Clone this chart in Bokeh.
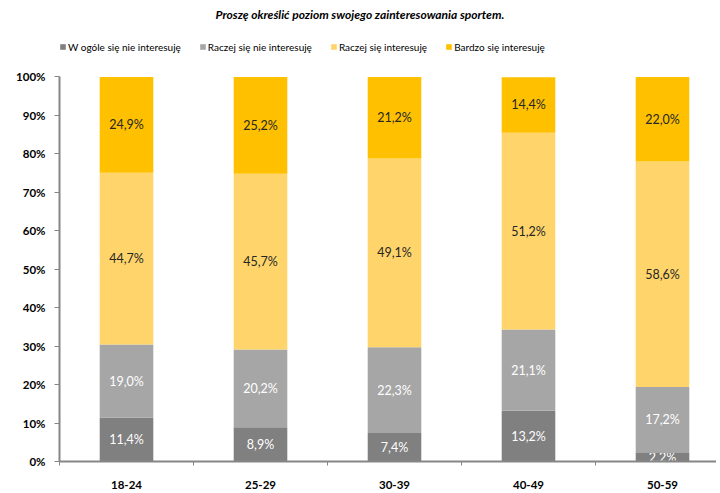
from bokeh.plotting import figure
from bokeh.models import Range1d, FixedTicker, Legend, LegendItem, ColumnDataSource, Title
from bokeh.embed import file_html
from bokeh.resources import INLINE
from bokeh.core.properties import value

categories = ["18-24", "25-29", "30-39", "40-49", "50-59"]
series_names = ["W ogóle się nie interesuję", "Raczej się nie interesuję",
                "Raczej się interesuję", "Bardzo się interesuję"]
s1 = [11.4, 8.9, 7.4, 13.2, 2.2]
s2 = [19.0, 20.2, 22.3, 21.1, 17.2]
s3 = [44.7, 45.7, 49.1, 51.2, 58.6]
s4 = [24.9, 25.2, 21.2, 14.4, 22.0]
colors = ["#808080", "#A6A6A6", "#FFD56B", "#FFC000"]
label_colors = ["#FFFFFF", "#FFFFFF", "#262626", "#262626"]
y_ticks = [i / 10 for i in range(11)]
y_tick_labels = ["0%", "10%", "20%", "30%", "40%", "50%", "60%", "70%", "80%", "90%", "100%"]

FONT = "Lato"
W, H = 716, 491
left, top = 59, 24
frame_bottom = 465
bottom = H - frame_bottom
frame_w = W - left
frame_h = frame_bottom - top
unit_px = 389.0
x_pos = list(range(len(categories)))

p = figure(width=W, height=H, output_backend="svg", toolbar_location=None, title=None,
           x_range=Range1d(-0.5, -0.5 + frame_w / 134.0),
           y_range=Range1d(0, frame_h / unit_px),
           min_border_left=left, min_border_right=0, min_border_top=top,
           min_border_bottom=bottom)
p.outline_line_color = None
p.xgrid.visible = False
p.ygrid.visible = False
p.background_fill_color = "white"
p.border_fill_color = "white"

series = [s1, s2, s3, s4]
bottoms = [0.0] * len(categories)
items = []
for k, s in enumerate(series):
    fr = [v / 100.0 for v in s]
    tops = [b + f for b, f in zip(bottoms, fr)]
    mids = [(b + t) / 2 for b, t in zip(bottoms, tops)]
    labels = [("%.1f%%" % v).replace(".", ",") for v in s]
    src = ColumnDataSource(dict(x=x_pos, bottom=bottoms, top=tops, mid=mids, lab=labels))
    r = p.vbar(x="x", width=0.4, bottom="bottom", top="top", source=src,
               fill_color=colors[k], line_color=None)
    items.append(LegendItem(label=series_names[k], renderers=[r]))
    p.text(x="x", y="mid", text="lab", source=src, text_align="center",
           text_baseline="middle", text_font=value(FONT), text_font_size="12.5px",
           text_color=label_colors[k])
    bottoms = tops

# y axis
ya = p.yaxis[0]
ya.bounds = (0, 1)
ya.ticker = FixedTicker(ticks=y_ticks)
ya.major_label_overrides = {t: l for t, l in zip(y_ticks, y_tick_labels)}
ya.axis_line_color = "#868686"
ya.axis_line_width = 2
ya.major_tick_line_color = "#868686"
ya.major_tick_in = 0
ya.major_tick_out = 5
ya.minor_tick_line_color = None
ya.major_label_text_font = FONT
ya.major_label_text_font_size = "11.5px"
ya.major_label_text_font_style = "bold"
ya.major_label_text_color = "#000000"
ya.major_label_standoff = 9

# x axis
xa = p.xaxis[0]
xa.ticker = FixedTicker(ticks=x_pos, minor_ticks=[i - 0.5 for i in range(len(categories) + 1)])
xa.major_label_overrides = {i: c for i, c in enumerate(categories)}
xa.axis_line_color = "#868686"
xa.axis_line_width = 2
xa.major_tick_line_color = None
xa.major_tick_in = 0
xa.major_tick_out = 0
xa.minor_tick_line_color = "#868686"
xa.minor_tick_in = 0
xa.minor_tick_out = 4
xa.major_label_text_font = FONT
xa.major_label_text_font_size = "11.5px"
xa.major_label_text_font_style = "bold"
xa.major_label_text_color = "#000000"
xa.major_label_standoff = 15

legend = Legend(items=items, orientation="horizontal", location=(0, 408),
                glyph_width=7, glyph_height=7, label_standoff=2, spacing=18,
                padding=0, margin=0, border_line_color=None,
                background_fill_alpha=0,
                label_text_font=FONT, label_text_font_size="10px",
                label_height=13, label_text_color="#000000")
p.add_layout(legend, "center")

title = Title(text="Proszę określić poziom swojego zainteresowania sportem.",
              text_font=FONT, text_font_size="12px", text_font_style="bold italic",
              align="left", offset=156, text_color="#000000", standoff=8)
p.add_layout(title, "above")

open("out.html", "w").write(file_html(p, INLINE))
